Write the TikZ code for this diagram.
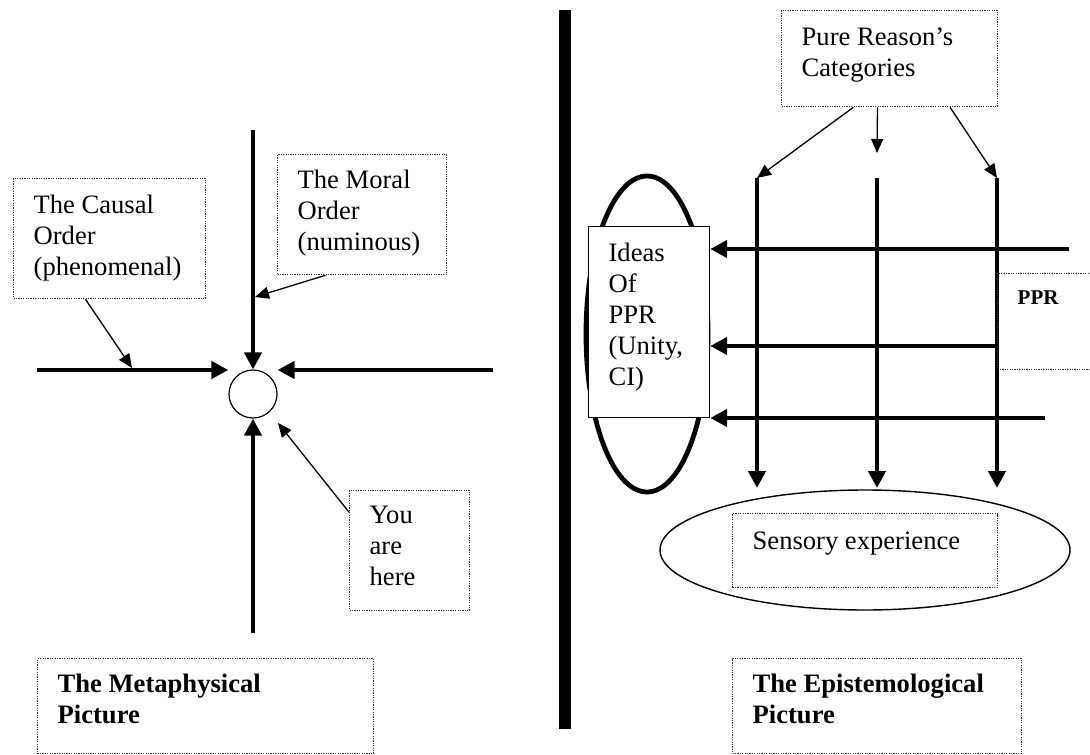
\documentclass[tikz,border=0pt]{standalone}
\usepackage{fontspec}
\setmainfont{Liberation Serif}
\usetikzlibrary{arrows.meta,calc}
\tikzset{
  notebox/.style={draw=black!80, line width=0.65pt, dash pattern=on 0.6pt off 0.6pt, inner sep=0pt, anchor=north west},
  ideabox/.style={draw=black, line width=0.6pt, fill=white, inner sep=0pt, anchor=north west},
  axis/.style={line width=2.2pt, -{Triangle[length=8.5pt,width=8.5pt]}},
  pointer/.style={line width=0.65pt, -{Triangle[length=7pt,width=6pt]}},
  spot/.style={circle, draw, line width=0.6pt, minimum size=24pt, inner sep=0pt}
}
% box text: width, height, first baseline, lines
\newcommand{\notetext}[4]{%
  \begin{minipage}[c][#2][t]{#1}\raggedright\leftskip=10pt
  \rule{0pt}{#3}#4\end{minipage}}

\begin{document}
\begin{tikzpicture}[x=0.5pt, y=-0.5pt, font=\fontsize{13.3}{15.5}\selectfont]
  \useasboundingbox (0,0) rectangle (1090,754);

  % The metaphysical picture
  \node[spot] (you) at (253,394) {};
  \coordinate (vtop) at (253,130);
  \coordinate (vbot) at (253,633);
  \coordinate (hleft) at (37,370);
  \coordinate (hright) at (493,370);
  \draw[axis] (vtop) -- (you);
  \draw[axis] (vbot) -- (you);
  \draw[axis] (hleft) -- (you.west |- hleft);
  \draw[axis] (hright) -- (you.east |- hright);

  \node[notebox] (causal) at (13,178) {\notetext{96pt}{60pt}{17.5pt}{The Causal\\Order\\(phenomenal)}};
  \node[notebox] (moral) at (277,154) {\notetext{84.5pt}{60pt}{17pt}{The Moral\\Order\\(numinous)}};
  \node[notebox] (here) at (349,490) {\notetext{60pt}{60pt}{16.5pt}{You\\are\\here}};
  \node[notebox] (meta) at (37,658) {\notetext{168pt}{47.5pt}{17pt}{\bfseries The Metaphysical\\Picture}};

  \coordinate (causalhit) at (132,368);
  \coordinate (moralhit) at (255,297);
  \coordinate (herehit) at (278,423);
  \draw[pointer] ($(causal.south west)!0.375!(causal.south east)$) -- (causalhit);
  \draw[pointer] ($(moral.south west)!0.284!(moral.south east)$) -- (moralhit);
  \draw[pointer] ($(here.north west)!0.183!(here.south west)$) -- (herehit);

  % Separator
  \coordinate (septop) at (565,10);
  \coordinate (sepbot) at (565,729);
  \draw[line width=6pt] (septop) -- (sepbot);

  % The epistemological picture
  \draw[line width=2.4pt] (647,334) ellipse [x radius=30.5pt, y radius=79pt];
  \draw[line width=0.7pt] (865,550) ellipse [x radius=102.5pt, y radius=30pt];
  \node[ideabox] (ideas) at (588,226) {\notetext{60.5pt}{95.5pt}{17.5pt}{Ideas\\Of\\PPR\\(Unity,\\CI)}};

  \foreach \x/\n in {757/1, 877/2, 997/3} {
    \coordinate (top\n) at (\x,178);
    \coordinate (bot\n) at (\x,488);
    \draw[axis] (top\n) -- (bot\n);
  }
  \coordinate (row1) at (1069,249);
  \coordinate (row2) at (997,346);
  \coordinate (row3) at (1045,418);
  \foreach \r in {1,2,3}
    \draw[axis] (row\r) -- (ideas.east |- row\r);

  \node[notebox] (pure) at (781,10) {\notetext{108pt}{48pt}{17.5pt}{Pure Reason’s\\Categories}};
  \node[notebox] (ppr) at (997,273) {\notetext{60pt}{48pt}{15.5pt}{\fontsize{10.5}{12}\selectfont\bfseries PPR}};
  \node[notebox] (sense) at (732,513) {\notetext{132.5pt}{37pt}{18pt}{Sensory experience}};
  \node[notebox] (episte) at (732,658) {\notetext{144.5pt}{47.5pt}{17pt}{\bfseries The Epistemological\\Picture}};

  \coordinate (catmid) at (877,153);
  \draw[pointer] ($(pure.south west)!0.333!(pure.south east)$) -- (top1);
  \draw[pointer] ($(pure.south west)!0.444!(pure.south east)$) -- (catmid);
  \draw[pointer] ($(pure.south west)!0.778!(pure.south east)$) -- (top3);
\end{tikzpicture}
\end{document}
